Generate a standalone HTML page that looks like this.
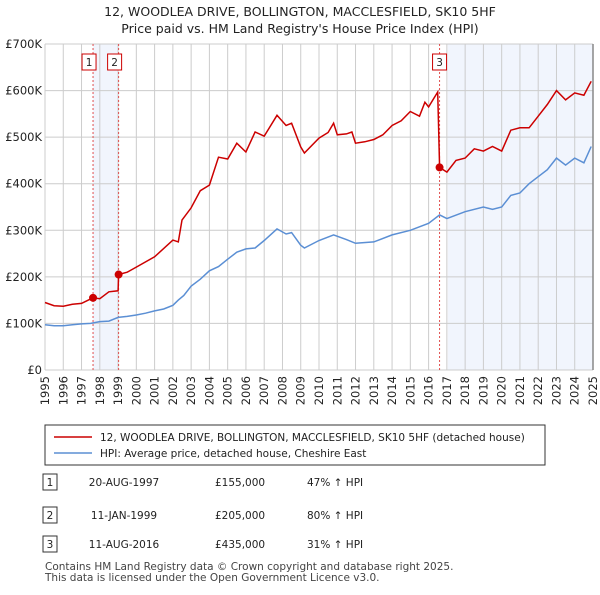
<!DOCTYPE html>
<html><head><meta charset="utf-8">
<style>
body{margin:0;background:#fff;font-family:"Liberation Sans","DejaVu Sans",sans-serif;}
svg text{font-family:"DejaVu Sans","Liberation Sans",sans-serif;}
</style></head>
<body>
<svg width="600" height="590" viewBox="0 0 600 590">
<g id="main"></g>
</svg>
<script>
const hpiYears=[1995,1995.5,1996,1996.5,1997,1997.5,1998,1998.5,1999,1999.5,2000,2000.5,2001,2001.5,2002,2002.3,2002.6,2003,2003.5,2004,2004.5,2005,2005.5,2006,2006.5,2007,2007.7,2008.2,2008.5,2009,2009.2,2010,2010.8,2011.5,2012,2013,2014,2015,2016,2016.6,2017,2018,2019,2019.5,2020,2020.5,2021,2021.5,2022,2022.5,2023,2023.5,2024,2024.5,2024.9];
const hpiValues=[97,95,95,97,99,100,104,105,113,115,118,122,127,131,139,150,160,180,195,213,222,238,253,260,262,278,303,292,295,268,262,278,290,280,272,275,290,300,315,333,325,340,350,345,350,375,380,400,415,430,455,440,455,445,480];
const paidYears=[1995,1995.5,1996,1996.5,1997,1997.63,1998,1998.5,1999,1999.03,1999.5,2000,2001,2002,2002.3,2002.5,2003,2003.5,2004,2004.5,2005,2005.5,2006,2006.5,2007,2007.7,2008.2,2008.5,2009,2009.2,2010,2010.5,2010.8,2011,2011.5,2011.8,2012,2012.5,2013,2013.5,2014,2014.5,2015,2015.5,2015.8,2016,2016.5,2016.6,2017,2017.5,2018,2018.5,2019,2019.5,2020,2020.5,2021,2021.5,2022,2022.5,2023,2023.5,2024,2024.5,2024.9];
const paidValues=[145,138,137,141,143,155,153,168,170,205,210,221,243,279,275,322,348,385,397,457,453,487,468,511,502,547,525,530,479,466,498,510,530,505,507,511,487,490,495,505,525,535,555,545,575,565,597,435,425,450,455,475,470,480,470,515,520,520,545,570,600,580,595,590,620];
const saleYears=[1997.63,1999.03,2016.6];
const saleValues=[155,205,435];
const saleLabels=["1","2","3"];
const yTicks=[0,100,200,300,400,500,600,700];
const yTickLabels=["£0","£100K","£200K","£300K","£400K","£500K","£600K","£700K"];
const xTicks=[];for(let y=1995;y<=2025;y++)xTicks.push(y);

const L=45,R=593,T=44,B=370;
const X=y=>L+(y-1995)/30*(R-L);
const Y=v=>B-v/700*(B-T);
const ns="http://www.w3.org/2000/svg";
const g=document.getElementById('main');
function el(tag,attrs,name,text){const e=document.createElementNS(ns,tag);for(const k in attrs)e.setAttribute(k,attrs[k]);


if(text!==undefined)e.textContent=text;g.appendChild(e);return e;}
el('text',{x:300,y:16,'text-anchor':'middle','font-size':12.5,fill:'#222'},'chart-title','12, WOODLEA DRIVE, BOLLINGTON, MACCLESFIELD, SK10 5HF');
el('text',{x:300,y:33,'text-anchor':'middle','font-size':12.5,fill:'#222'},'chart-subtitle',"Price paid vs. HM Land Registry's House Price Index (HPI)");
// shading
el('rect',{x:X(saleYears[0]),y:T,width:X(saleYears[1])-X(saleYears[0]),height:B-T,fill:'#eef3fc',opacity:0.8},'ownership-shade-1-2');
el('rect',{x:X(2017.05),y:T,width:R-X(2017.05),height:B-T,fill:'#eef3fc',opacity:0.8},'ownership-shade-3');
// grid
xTicks.forEach(y=>{el('line',{x1:X(y),x2:X(y),y1:T,y2:B,stroke:'#cccccc','stroke-width':1},'x-gridline');
el('text',{x:0,y:0,transform:`translate(${X(y)+4},${B+6}) rotate(-90)`,'text-anchor':'end','font-size':11.5,fill:'#222'},'x-tick-label',String(y));});
yTicks.forEach((v,i)=>{el('line',{x1:L,x2:R,y1:Y(v),y2:Y(v),stroke:'#cccccc','stroke-width':1},'y-gridline');
el('text',{x:L-3,y:Y(v)+4,'text-anchor':'end','font-size':11.5,fill:'#222'},'y-tick-label',yTickLabels[i]);});
el('line',{x1:R,x2:R,y1:T,y2:B,stroke:'#888','stroke-width':1.5},'forecast-edge');
// sale lines
saleYears.forEach((s,i)=>{el('line',{x1:X(s),x2:X(s),y1:T,y2:B,stroke:'#e05050','stroke-width':1,'stroke-dasharray':'2,2'},'sale-marker-line');
const bx=X(s)-7-(i<2?4:0);
el('rect',{x:bx,y:54,width:14,height:16,fill:'#fff',stroke:'#cc0000','stroke-width':1},'sale-label-box');
el('text',{x:bx+7,y:66,'text-anchor':'middle','font-size':10.5,fill:'#222'},'sale-label',saleLabels[i]);});
function pts(xs,vs){return xs.map((y,i)=>X(y).toFixed(1)+','+Y(vs[i]).toFixed(1)).join(' ');}
el('polyline',{points:pts(hpiYears,hpiValues),fill:'none',stroke:'#5b8fd4','stroke-width':1.5},'hpi-line');
el('polyline',{points:pts(paidYears,paidValues),fill:'none',stroke:'#cc0000','stroke-width':1.5},'price-paid-line');
saleYears.forEach((s,i)=>el('circle',{cx:X(s),cy:Y(saleValues[i]),r:4,fill:'#cc0000'},'sale-point'));
// legend
el('rect',{x:45,y:425,width:500,height:40,fill:'#fff',stroke:'#333','stroke-width':1},'legend-box');
el('line',{x1:54,x2:92,y1:437,y2:437,stroke:'#cc0000','stroke-width':1.5},'legend-swatch-price');
el('text',{x:100,y:441,'font-size':10.5,fill:'#222'},'legend-entry-price','12, WOODLEA DRIVE, BOLLINGTON, MACCLESFIELD, SK10 5HF (detached house)');
el('line',{x1:54,x2:92,y1:453,y2:453,stroke:'#5b8fd4','stroke-width':1.5},'legend-swatch-hpi');
el('text',{x:100,y:457,'font-size':10.5,fill:'#222'},'legend-entry-hpi','HPI: Average price, detached house, Cheshire East');
const rows=[["1","20-AUG-1997","£155,000","47% ↑ HPI",483],["2","11-JAN-1999","£205,000","80% ↑ HPI",516],["3","11-AUG-2016","£435,000","31% ↑ HPI",545]];
rows.forEach(r=>{el('rect',{x:43,y:r[4]-9,width:14,height:16,fill:'#fff',stroke:'#333','stroke-width':1},'table-num-box');
el('text',{x:50,y:r[4]+3,'text-anchor':'middle','font-size':10.5,fill:'#222'},'table-num',r[0]);
el('text',{x:124,y:r[4]+3,'text-anchor':'middle','font-size':10.5,fill:'#222'},'table-date',r[1]);
el('text',{x:215,y:r[4]+3,'font-size':10.5,fill:'#222'},'table-price',r[2]);
el('text',{x:307,y:r[4]+3,'font-size':10.5,fill:'#222'},'table-hpi',r[3]);});
el('text',{x:45,y:570,'font-size':10.5,fill:'#444'},'footer-line-1','Contains HM Land Registry data © Crown copyright and database right 2025.');
el('text',{x:45,y:581,'font-size':10.5,fill:'#444'},'footer-line-2','This data is licensed under the Open Government Licence v3.0.');
</script>
</body></html>
